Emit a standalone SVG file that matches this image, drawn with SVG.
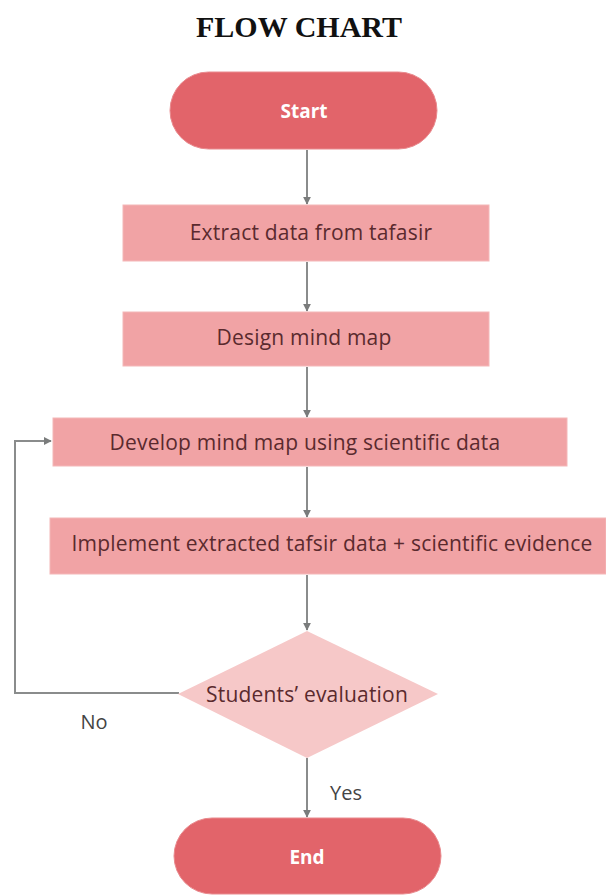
<svg xmlns="http://www.w3.org/2000/svg" width="606" height="896" viewBox="0 0 606 896">
<defs>
<style>
.term{fill:#e2646a;stroke:#e98a8e;stroke-width:1}
.proc{fill:#f1a3a5;stroke:#f4b7b8;stroke-width:1}
.dec{fill:#f6c8c8}
.t{font-family:"Open Sans","Liberation Sans",sans-serif;font-size:21px;letter-spacing:0.2px;fill:#5a2a2e;text-anchor:middle;dominant-baseline:central}
.tw{font-family:"Open Sans","Liberation Sans",sans-serif;font-size:19px;fill:#ffffff;text-anchor:middle;dominant-baseline:central;font-weight:bold}
.lbl{font-family:"Open Sans","Liberation Sans",sans-serif;font-size:20px;fill:#444;text-anchor:middle;dominant-baseline:central}
.c{fill:none;stroke:#8a8c8c;stroke-width:2}
</style>
<marker id="ah" viewBox="0 0 10 10" refX="9" refY="5" markerWidth="4" markerHeight="4" orient="auto">
<path d="M0,0 L10,5 L0,10 z" fill="#7a7c7c"/>
</marker>
</defs>
<rect width="606" height="896" fill="#ffffff"/>
<text x="299" y="37" font-family="Liberation Serif,serif" font-size="30" font-weight="bold" text-anchor="middle" fill="#111">FLOW CHART</text>
<g id="connectors">
<line class="c" x1="307" y1="150" x2="307" y2="204" marker-end="url(#ah)"/>
<line class="c" x1="307" y1="262" x2="307" y2="311" marker-end="url(#ah)"/>
<line class="c" x1="307" y1="367" x2="307" y2="417" marker-end="url(#ah)"/>
<line class="c" x1="307" y1="467" x2="307" y2="517" marker-end="url(#ah)"/>
<line class="c" x1="307" y1="575" x2="307" y2="630" marker-end="url(#ah)"/>
<line class="c" x1="307" y1="758" x2="307" y2="817" marker-end="url(#ah)"/>
<polyline class="c" points="179,693 15,693 15,441 51,441" marker-end="url(#ah)"/>
<text class="lbl" x="94" y="721">No</text>
<text class="lbl" x="346" y="792">Yes</text>
</g>
<g id="start">
<rect class="term" x="170" y="72" width="267" height="77" rx="38.5"/>
<text class="tw" x="304" y="111">Start</text>
</g>
<g id="extract">
<rect class="proc" x="123" y="205" width="366" height="56"/>
<text class="t" x="311" y="232">Extract data from tafasir</text>
</g>
<g id="design">
<rect class="proc" x="123" y="312" width="366" height="54"/>
<text class="t" x="304" y="337">Design mind map</text>
</g>
<g id="develop">
<rect class="proc" x="53" y="418" width="514" height="48"/>
<text class="t" x="305" y="442">Develop mind map using scientific data</text>
</g>
<g id="implement">
<rect class="proc" x="50" y="518" width="556" height="56"/>
<text class="t" x="332" y="543">Implement extracted tafsir data + scientific evidence</text>
</g>
<g id="evaluation">
<polygon class="dec" points="307,631 438,694 307,758 178,694"/>
<text class="t" x="307" y="694">Students’ evaluation</text>
</g>
<g id="end">
<rect class="term" x="174" y="818" width="267" height="76" rx="38"/>
<text class="tw" x="307" y="857">End</text>
</g>
</svg>
